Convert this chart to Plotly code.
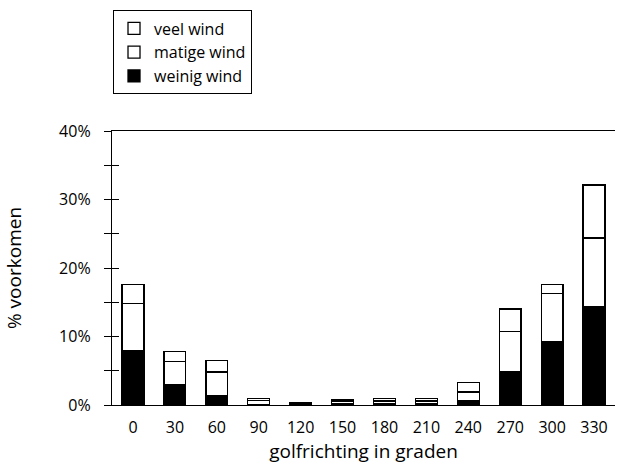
import plotly.graph_objects as go

# golfrichting (graden) en percentage voorkomen per windklasse
richting = ["0", "30", "60", "90", "120", "150", "180", "210", "240", "270", "300", "330"]
weinig_wind = [8.0, 2.9, 1.3, 0.1, 0.1, 0.2, 0.2, 0.2, 0.7, 4.8, 9.2, 14.4]
matige_wind = [6.8, 3.5, 3.5, 0.6, 0.1, 0.4, 0.4, 0.4, 1.2, 5.9, 7.1, 10.0]
veel_wind = [2.8, 1.4, 1.7, 0.2, 0.1, 0.2, 0.3, 0.3, 1.4, 3.3, 1.3, 7.7]

y_ticks = [0, 10, 20, 30, 40]
y_labels = ["0%", "10%", "20%", "30%", "40%"]

FONT = "Open Sans"
line = {"color": "black", "width": 1.3}
tick_style = {"ticklen": 7, "tickwidth": 1.3, "tickcolor": "black"}

fig = go.Figure()
fig.add_trace(go.Bar(x=richting, y=weinig_wind, name="weinig wind",
                     marker={"color": "black", "line": line}, hoverinfo="skip"))
fig.add_trace(go.Bar(x=richting, y=matige_wind, name="matige wind",
                     marker={"color": "white", "line": line}, hoverinfo="skip"))
fig.add_trace(go.Bar(x=richting, y=veel_wind, name="veel wind",
                     marker={"color": "white", "line": line}, hoverinfo="skip"))
# onzichtbare trace zodat de tweede as (ticks naar binnen) getekend wordt
fig.add_trace(go.Scatter(x=richting[:1], y=y_ticks[:1], yaxis="y2", mode="markers",
                         marker={"opacity": 0}, showlegend=False, hoverinfo="skip"))

fig.update_layout(
    width=619,
    height=472,
    barmode="stack",
    bargap=0.48,
    plot_bgcolor="white",
    paper_bgcolor="white",
    font={"family": FONT, "size": 16, "color": "black"},
    margin={"l": 112, "r": 4, "t": 131, "b": 67},
    legend={
        "x": 0.002, "xanchor": "left", "y": 1.44, "yanchor": "top",
        "traceorder": "reversed",
        "bordercolor": "black", "borderwidth": 1,
        "font": {"size": 16},
        "itemwidth": 30,
        "tracegroupgap": 0,
    },
    xaxis={
        "range": [-0.5, 11.5],
        "showline": True, "linecolor": "black", "linewidth": 1.3,
        "mirror": True, "ticks": "", "showgrid": False, "automargin": False,
        "ticklabelstandoff": 8,
        "title": {"text": "golfrichting in graden", "standoff": 7},
    },
    yaxis={
        "range": [0, 40], "tickvals": y_ticks, "ticktext": y_labels,
        "showline": True, "linecolor": "black", "linewidth": 1.3,
        "ticks": "outside", **tick_style,
        "minor": {"dtick": 5, "ticks": "outside", **tick_style},
        "showgrid": False, "zeroline": False, "automargin": True,
        "ticklabelstandoff": 10,
        "title": {"text": "% voorkomen", "standoff": 32},
    },
    yaxis2={
        "overlaying": "y", "side": "left", "range": [0, 40],
        "tickvals": y_ticks, "showticklabels": False,
        "ticks": "inside", **tick_style,
        "minor": {"dtick": 5, "ticks": "inside", **tick_style},
        "showgrid": False, "zeroline": False, "showline": False,
        "automargin": False,
    },
)

fig.write_html(
    "out.html",
    config={"displayModeBar": False},
    post_script="document.body.style.margin = '0';",
)
